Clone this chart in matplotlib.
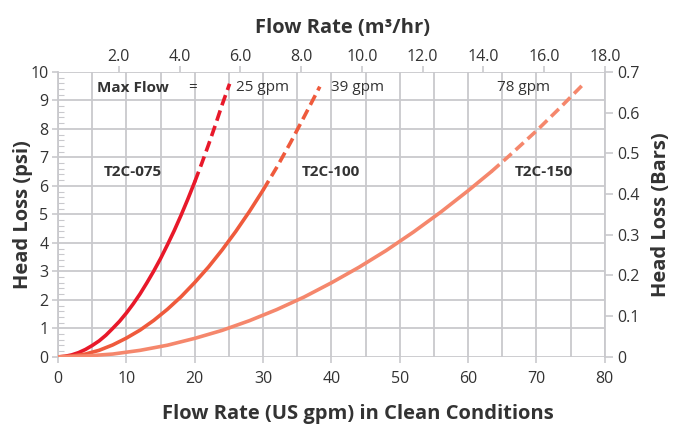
import matplotlib.pyplot as plt
import numpy as np

plt.rcParams['font.family'] = ['Open Sans', 'DejaVu Sans']

# Flow (US gpm) and head loss (psi)
gpm_075 = [0, 1, 2, 3, 4, 5, 6, 7, 8, 9, 10, 11, 12, 13, 14, 15, 16, 17,
           18, 19, 20, 21, 22, 23, 24, 25.1]
psi_075 = [0, 0.02, 0.07, 0.15, 0.26, 0.4, 0.56, 0.76, 1.0, 1.25, 1.54, 1.86,
           2.21, 2.6, 3.01, 3.45, 3.93, 4.43, 4.97, 5.54, 6.14, 6.77, 7.43,
           8.12, 8.84, 9.58]
solid_075 = 21  # points that are drawn solid

gpm_100 = [0, 2, 4, 6, 8, 10, 12, 14, 16, 18, 20, 22, 24, 26, 28, 30, 32,
           34, 36, 38.3]
psi_100 = [0, 0.03, 0.1, 0.23, 0.42, 0.66, 0.94, 1.28, 1.67, 2.11, 2.61,
           3.15, 3.75, 4.4, 5.1, 5.85, 6.65, 7.51, 8.42, 9.48]
solid_100 = 16

gpm_150 = [0, 4, 8, 12, 16, 20, 24, 28, 32, 36, 40, 44, 48, 52, 56, 60,
           63.4, 66, 70, 73.5, 77]
psi_150 = [0, 0.03, 0.1, 0.23, 0.41, 0.65, 0.93, 1.27, 1.66, 2.1, 2.6, 3.14,
           3.73, 4.38, 5.08, 5.83, 6.5, 7.05, 7.93, 8.75, 9.6]
solid_150 = 17

colors = ['#e8192a', '#ef5a3c', '#f5876c']
names = ['T2C-075', 'T2C-100', 'T2C-150']
name_x = [6.7, 35.7, 66.8]
max_labels = ['25 gpm', '39 gpm', '78 gpm']
max_x = [26.0, 39.9, 64.2]

top_ticks = np.arange(2, 19, 2)
right_ticks = np.arange(0, 0.71, 0.1)

grid_c = '#c9c9cd'
text_c = '#333333'
tick_fs = 11.5
label_fs = 14.5

fig = plt.figure(figsize=(6.75, 4.3), dpi=100)
ax = fig.add_axes([0.086, 0.17, 0.81, 0.663])

series = [(gpm_075, psi_075, solid_075), (gpm_100, psi_100, solid_100),
          (gpm_150, psi_150, solid_150)]
for (x, y, n), c in zip(series, colors):
    ax.plot(x[:n], y[:n], color=c, lw=2.6, solid_capstyle='round',
            solid_joinstyle='round', zorder=3)
    ax.plot(x[n - 1:], y[n - 1:], color=c, lw=2.6, dashes=(3.0, 1.5),
            dash_capstyle='butt', zorder=3)

ax.set_xlim(0, 80)
ax.set_ylim(0, 10)
ax.set_xticks(np.arange(0, 81, 10))
ax.set_xticks(np.arange(0, 81, 5), minor=True)
ax.set_yticks(np.arange(0, 11, 1))
ax.set_yticks(np.arange(0, 10.01, 0.2), minor=True)
ax.grid(True, which='major', color=grid_c, lw=1.3)
ax.grid(True, which='minor', axis='x', color=grid_c, lw=1.3)
ax.set_axisbelow(True)
for s in ax.spines.values():
    s.set_visible(False)
ax.spines['left'].set_visible(True)
ax.spines['left'].set_color(grid_c)
ax.spines['left'].set_linewidth(1.3)
ax.tick_params(axis='both', which='major', colors=grid_c, labelcolor=text_c,
               labelsize=tick_fs, length=4, width=1.2)
ax.tick_params(axis='x', which='minor', length=0)
ax.tick_params(axis='y', which='minor', direction='in', length=4, width=0.8,
               colors=grid_c)
ax.tick_params(axis='x', pad=6)
ax.tick_params(axis='y', pad=3)

ax.set_xlabel('Flow Rate (US gpm) in Clean Conditions', fontsize=label_fs,
              fontweight='bold', color=text_c)
ax.xaxis.set_label_coords(0.548, -0.165)
ax.set_ylabel('Head Loss (psi)', fontsize=label_fs, fontweight='bold',
              color=text_c)
ax.yaxis.set_label_coords(-0.045, 0.5)

# top axis in m3/hr
axt = ax.twiny()
axt.set_xlim(0, 18)
axt.set_xticks(top_ticks)
axt.set_xticklabels(['%.1f' % t for t in top_ticks])
axt.tick_params(axis='x', colors=grid_c, labelcolor=text_c, labelsize=tick_fs,
                length=4, width=1.2, pad=1)
for s in axt.spines.values():
    s.set_visible(False)
axt.set_xlabel('Flow Rate (m³/hr)', fontsize=label_fs, fontweight='bold',
               color=text_c)
axt.xaxis.set_label_coords(0.52, 1.135)

# right axis in bars
axr = ax.twinx()
axr.set_ylim(0, 0.7)
axr.set_yticks(right_ticks)
axr.set_yticklabels(['0'] + ['%.1f' % t for t in right_ticks[1:]])
axr.tick_params(axis='y', colors=grid_c, labelcolor=text_c, labelsize=tick_fs,
                length=6, width=1.2, pad=3)
for s in axr.spines.values():
    s.set_visible(False)
axr.spines['right'].set_visible(True)
axr.spines['right'].set_color(grid_c)
axr.spines['right'].set_linewidth(1.3)
axr.set_ylabel('Head Loss (Bars)', fontsize=label_fs, fontweight='bold',
               color=text_c, labelpad=8)

ax.text(5.7, 9.44, 'Max Flow', fontsize=11, fontweight='bold', color=text_c,
        va='center', zorder=4)
ax.text(19.0, 9.44, '=', fontsize=11, color=text_c, va='center', zorder=4)
for lab, x in zip(max_labels, max_x):
    ax.text(x, 9.44, lab, fontsize=11, color=text_c, va='center', zorder=4)
for lab, x in zip(names, name_x):
    ax.text(x, 6.5, lab, fontsize=11, fontweight='bold', color=text_c,
            va='center', zorder=4)

fig.savefig('out.png', dpi=100)
